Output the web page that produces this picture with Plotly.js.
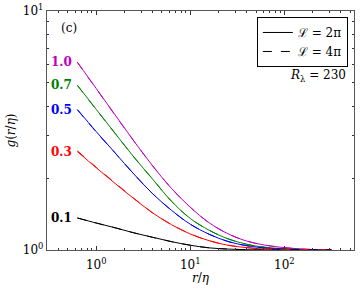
<!DOCTYPE html>
<html>
<head>
<meta charset="utf-8">
<script src="https://cdn.plot.ly/plotly-3.0.1.min.js"></script>
<style>html,body{margin:0;padding:0;background:#fff;}#chart{width:360px;height:288px;}</style>
</head>
<body>
<div id="chart"></div>
<script>
// separation r/eta
const r = [0.631, 1.0, 1.585, 2.512, 3.981, 6.31, 10.0, 15.85, 25.12, 39.81, 63.1, 100, 158.5, 251.2, 316.2];
// L = 2pi (solid)
const g10_2pi = [6.11, 4.74, 3.68, 2.86, 2.25, 1.81, 1.51, 1.30, 1.17, 1.09, 1.047, 1.023, 1.009, 1.002, 1.0];
const g07_2pi = [4.89, 3.88, 3.08, 2.45, 1.98, 1.60, 1.355, 1.21, 1.114, 1.057, 1.026, 1.012, 1.005, 1.001, 1.0];
const g05_2pi = [3.87, 3.13, 2.55, 2.08, 1.72, 1.466, 1.282, 1.164, 1.086, 1.042, 1.019, 1.009, 1.0035, 1.001, 1.0];
const g03_2pi = [2.58, 2.21, 1.90, 1.64, 1.43, 1.276, 1.167, 1.094, 1.047, 1.023, 1.009, 1.005, 1.002, 1.0, 1.0];
const g01_2pi = [1.361, 1.297, 1.239, 1.180, 1.130, 1.084, 1.047, 1.021, 1.009, 1.003, 1.0, 1.0, 1.0, 1.0, 1.0];
// L = 4pi (dashed)
const g10_4pi = [6.09, 4.73, 3.67, 2.86, 2.25, 1.81, 1.51, 1.30, 1.17, 1.09, 1.047, 1.023, 1.009, 1.002, 1.0];
const g07_4pi = [4.88, 3.87, 3.08, 2.45, 1.98, 1.60, 1.355, 1.21, 1.114, 1.057, 1.026, 1.012, 1.005, 1.001, 1.0];
const g05_4pi = [3.86, 3.12, 2.55, 2.08, 1.72, 1.466, 1.282, 1.164, 1.086, 1.042, 1.019, 1.009, 1.0035, 1.001, 1.0];
const g03_4pi = [2.60, 2.22, 1.91, 1.645, 1.43, 1.278, 1.168, 1.094, 1.047, 1.023, 1.009, 1.005, 1.002, 1.0, 1.0];
const g01_4pi = [1.362, 1.297, 1.239, 1.180, 1.130, 1.084, 1.047, 1.021, 1.009, 1.003, 1.0, 1.0, 1.0, 1.0, 1.0];
const labels = ["1.0", "0.7", "0.5", "0.3", "0.1"];
const colors = ["#bf00bf", "#008000", "#0000ff", "#ff0000", "#000000"];
const solid = [g10_2pi, g07_2pi, g05_2pi, g03_2pi, g01_2pi];
const dashed = [g10_4pi, g07_4pi, g05_4pi, g03_4pi, g01_4pi];
const legendNames = ["\u2112 = 2\u03c0", "\u2112 = 4\u03c0"];
const reynolds = "230";
const xTitle = "<i>r</i>/<i>η</i>";
const yTitle = "<i>g</i>(<i>r</i>/<i>η</i>)";
// ticks
const xTickVals = [1, 10, 100];
const xTickText = ["10<sup>0</sup>", "10<sup>1</sup>", "10<sup>2</sup>"];
const xMinorVals = [0.4, 0.5, 0.6, 0.7, 0.8, 0.9, 2, 3, 4, 5, 6, 7, 8, 9, 20, 30, 40, 50, 60, 70, 80, 90, 200, 300, 400, 500];
const yTickVals = [1, 10];
const yTickText = ["10<sup>0</sup>", "10<sup>1</sup>"];
const yMinorVals = [2, 3, 4, 5, 6, 7, 8, 9];

const font = "DejaVu Serif, Liberation Serif, serif";
const traces = [];
solid.forEach((g, i) => traces.push({x: r, y: g, mode: "lines", line: {color: colors[i], width: 1, shape: "spline", smoothing: 1}, showlegend: false, hoverinfo: "skip"}));
dashed.forEach((g, i) => traces.push({x: r, y: g, mode: "lines", line: {color: colors[i], width: 1, dash: "dash", shape: "spline", smoothing: 1}, showlegend: false, hoverinfo: "skip"}));
// legend samples
traces.push({x: [null], y: [null], mode: "lines", line: {color: "#000", width: 1}, name: legendNames[0], showlegend: true});
traces.push({x: [null], y: [null], mode: "lines", line: {color: "#000", width: 1, dash: "dash"}, name: legendNames[1], showlegend: true});

const annotations = labels.map((t, i) => ({
  x: Math.log10(r[0]), y: Math.log10(solid[i][0]), xref: "x", yref: "y",
  text: "<b>" + t + "</b>", showarrow: false, xanchor: "right", yanchor: "middle", xshift: -3,
  font: {family: font, size: 12, color: colors[i]}
}));
annotations.push({x: 0.04, y: 0.93, xref: "paper", yref: "paper", text: "(c)", showarrow: false, xanchor: "left", yanchor: "middle", font: {family: font, size: 12, color: "#000"}});
annotations.push({x: 0.98, y: 0.73, xref: "paper", yref: "paper", text: "<i>R</i><sub>λ</sub> = " + reynolds, showarrow: false, xanchor: "right", yanchor: "middle", font: {family: font, size: 12, color: "#000"}});
annotations.push({x: 0.5, y: 0, xref: "paper", yref: "paper", text: xTitle, showarrow: false, xanchor: "center", yanchor: "middle", yshift: -28, font: {family: font, size: 12, color: "#000"}});

const axisCommon = {
  type: "log", showgrid: false, zeroline: false, showline: true, linecolor: "#555", linewidth: 1.2,
  mirror: "ticks", ticks: "inside", ticklen: 4, tickcolor: "#333", tickmode: "array",
  tickfont: {family: font, size: 12, color: "#000"}
};

const layout = {
  width: 360, height: 288,
  margin: {l: 47, r: 6, t: 11, b: 38},
  paper_bgcolor: "#fff", plot_bgcolor: "#fff",
  showlegend: true,
  legend: {x: 0.98, y: 0.975, xanchor: "right", yanchor: "top", bordercolor: "#000", borderwidth: 1, bgcolor: "#fff",
    font: {family: font, size: 12, color: "#000"}, tracegroupgap: 0},
  xaxis: Object.assign({}, axisCommon, {range: [Math.log10(0.3), Math.log10(550)],
    tickvals: xTickVals, ticktext: xTickText, ticklabelstandoff: 3,
    minor: {tickmode: "array", tickvals: xMinorVals, ticks: "inside", ticklen: 2, tickcolor: "#333", showgrid: false}}),
  yaxis: Object.assign({}, axisCommon, {range: [0, 1],
    tickvals: yTickVals, ticktext: yTickText,
    minor: {tickmode: "array", tickvals: yMinorVals, ticks: "inside", ticklen: 2, tickcolor: "#333", showgrid: false},
    title: {text: yTitle, font: {family: font, size: 12, color: "#000"}, standoff: 4}}),
  annotations: annotations
};

Plotly.newPlot("chart", traces, layout, {staticPlot: true, displayModeBar: false});
</script>
</body>
</html>
